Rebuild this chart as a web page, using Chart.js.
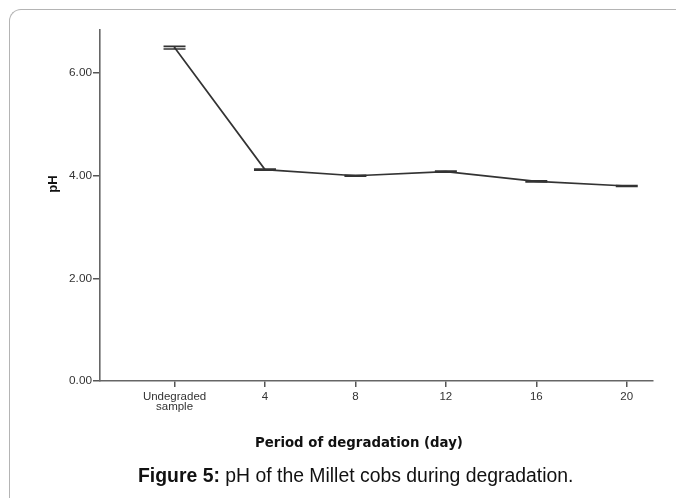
<!DOCTYPE html>
<html>
<head>
<meta charset="utf-8">
<script src="https://cdn.jsdelivr.net/npm/chart.js@4"></script>
<style>
  html, body { margin: 0; padding: 0; background: #fff; }
  #wrap { position: relative; width: 676px; height: 498px; overflow: hidden; }
  #frame { position: absolute; left: 9px; top: 9px; width: 700px; height: 520px;
           border-left: 1px solid #b4b4b4; border-top: 1px solid #b4b4b4; border-top-left-radius: 12px; }
  #c { position: absolute; left: 0; top: 0; }
  #caption { position: absolute; left: 138px; top: 464px; font-family: "Liberation Sans", Arial, sans-serif;
             font-size: 19.4px; line-height: 22px; color: #111; white-space: nowrap; }
</style>
</head>
<body>
<div id="wrap">
  <div id="frame"></div>
  <canvas id="c" width="676" height="498"></canvas>
  <div id="caption"><b>Figure 5:</b> pH of the Millet cobs during degradation.</div>
</div>
<script>
const categories = [["Undegraded", "sample"], "4", "8", "12", "16", "20"];
const phValues = [6.50, 4.12, 4.00, 4.08, 3.89, 3.80];
const errLow  = [6.47, 4.11, 3.99, 4.07, 3.88, 3.79];
const errHigh = [6.52, 4.13, 4.01, 4.09, 3.90, 3.81];
const yTicks = [0, 2, 4, 6];
const xTitleText = 'Period of degradation (day)';
const yTitleText = 'pH';

const FONT = '"Liberation Sans", Arial, sans-serif';
const TITLE_FONT = '"DejaVu Sans", Verdana, sans-serif';

const errorBars = {
  id: 'errorBars',
  afterDatasetsDraw(chart) {
    const ctx = chart.ctx, xs = chart.scales.x, ys = chart.scales.y;
    ctx.save();
    ctx.strokeStyle = '#333';
    ctx.lineWidth = 1.6;
    phValues.forEach((v, i) => {
      const x = xs.getPixelForValue(i);
      const yl = ys.getPixelForValue(errLow[i]);
      const yh = ys.getPixelForValue(errHigh[i]);
      ctx.beginPath();
      ctx.moveTo(x, yh); ctx.lineTo(x, yl);
      ctx.moveTo(x - 11, yh); ctx.lineTo(x + 11, yh);
      ctx.moveTo(x - 11, yl); ctx.lineTo(x + 11, yl);
      ctx.stroke();
    });
    ctx.restore();
  }
};

const axisTitles = {
  id: 'axisTitles',
  afterDraw(chart) {
    const ctx = chart.ctx;
    ctx.save();
    ctx.fillStyle = '#111';
    ctx.textAlign = 'center';
    ctx.textBaseline = 'middle';
    // x title: fit to the reference width of ~208px
    ctx.font = 'bold 13px ' + TITLE_FONT;
    const w = ctx.measureText(xTitleText).width;
    const size = Math.max(10, Math.min(16, 13 * 208 / w));
    ctx.font = 'bold ' + size.toFixed(2) + 'px ' + TITLE_FONT;
    ctx.fillText(xTitleText, 359, 444);
    // y title
    ctx.translate(53, 184);
    ctx.rotate(-Math.PI / 2);
    ctx.font = 'bold 13px ' + FONT;
    ctx.fillText(yTitleText, 0, 0);
    ctx.restore();
  }
};

new Chart(document.getElementById('c'), {
  type: 'line',
  data: {
    datasets: [{
      data: phValues.map((v, i) => ({ x: i, y: v })),
      borderColor: '#333',
      borderWidth: 1.7,
      pointRadius: 0,
      tension: 0,
      fill: false
    }]
  },
  options: {
    responsive: false,
    animation: false,
    layout: { padding: { left: 0, right: 23, top: 30, bottom: 0 } },
    plugins: { legend: { display: false }, tooltip: { enabled: false } },
    scales: {
      x: {
        type: 'linear',
        min: -0.824,
        max: 5.29,
        afterBuildTicks(scale) { scale.ticks = categories.map((_, i) => ({ value: i })); },
        afterFit(scale) { scale.height = 117; },
        ticks: {
          autoSkip: false,
          maxRotation: 0,
          padding: 5,
          color: '#333',
          font: { family: FONT, size: 11.5, lineHeight: 0.88 },
          callback: (v) => categories[v]
        },
        grid: { drawOnChartArea: false, drawTicks: true, tickLength: 6, color: '#555', lineWidth: 1.5 },
        border: { display: true, color: '#666', width: 1.6 }
      },
      y: {
        min: 0,
        max: 6.84,
        afterBuildTicks(scale) { scale.ticks = yTicks.map(v => ({ value: v })); },
        afterFit(scale) { scale.width = 100; },
        ticks: {
          padding: 1,
          color: '#333',
          font: { family: FONT, size: 11.8 },
          callback: (v) => v.toFixed(2)
        },
        grid: { drawOnChartArea: false, drawTicks: true, tickLength: 7, color: '#555', lineWidth: 1.5 },
        border: { display: true, color: '#666', width: 1.6 }
      }
    }
  },
  plugins: [errorBars, axisTitles]
});
</script>
</body>
</html>
